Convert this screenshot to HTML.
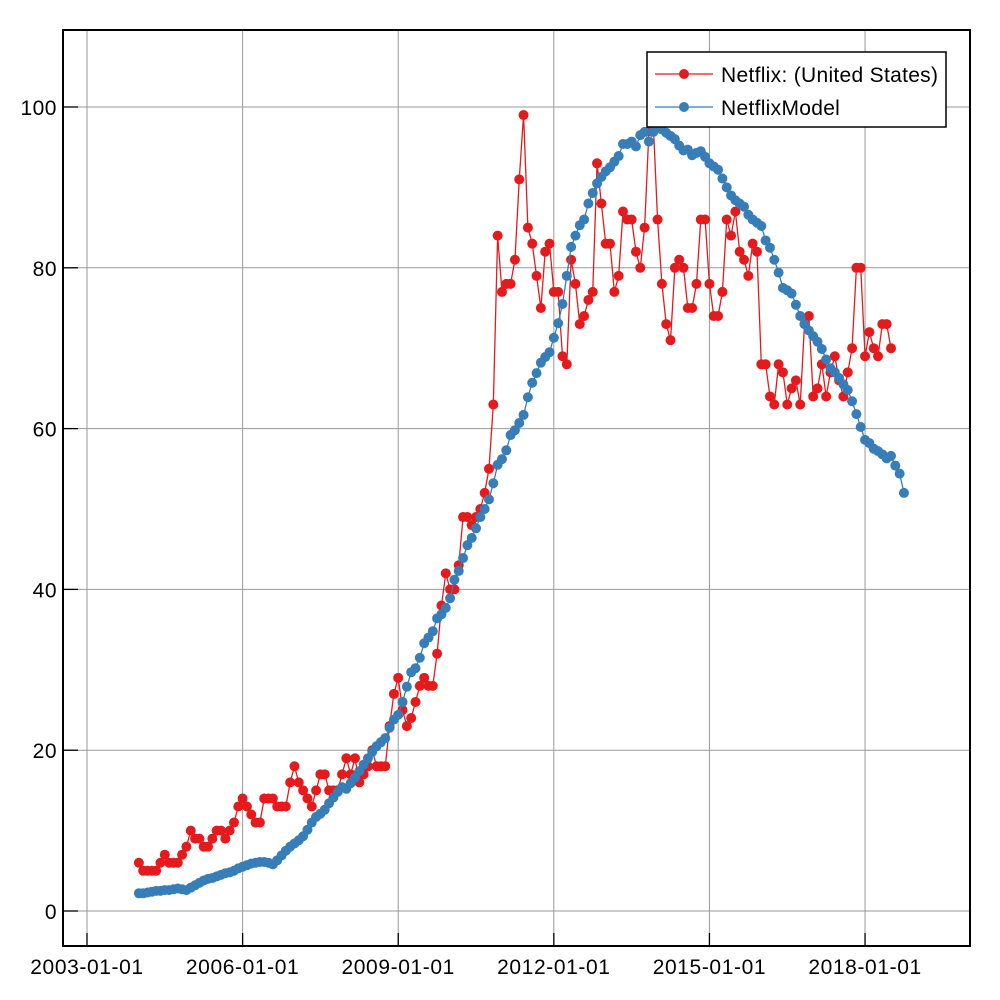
<!DOCTYPE html>
<html><head><meta charset="utf-8"><style>
body{margin:0;background:#fff;}
svg{display:block;font-family:"Liberation Sans",sans-serif;}
</style></head><body>
<svg id="chart" width="1000" height="1000" viewBox="0 0 1000 1000">
<rect x="0" y="0" width="1000" height="1000" fill="#fff"/>
<g id="grid"></g>
<g id="series"></g>
<rect x="63" y="30" width="907" height="916" fill="none" stroke="#000" stroke-width="2"/>
<g id="axes"></g>
<g>
<rect x="647" y="52" width="299" height="75" fill="#fff" stroke="#000" stroke-width="1.5"/>
<g>
<line x1="655" y1="74" x2="713" y2="74" stroke="#e41a1c" stroke-width="1.3"/>
<circle cx="684" cy="74" r="5" fill="#e41a1c"/>
<text x="721" y="82" font-size="21" letter-spacing="0.3" fill="#000">Netflix: (United States)</text></g>
<g>
<line x1="655" y1="107" x2="713" y2="107" stroke="#377eb8" stroke-width="1.3"/>
<circle cx="684" cy="107" r="5" fill="#377eb8"/>
<text x="721" y="115" font-size="21" letter-spacing="0.3" fill="#000">NetflixModel</text></g>
</g>
</svg>
<script>
const yTicks=[0,20,40,60,80,100];
const xTickYears=[2003,2006,2009,2012,2015,2018];
const xTickLabels=["2003-01-01","2006-01-01","2009-01-01","2012-01-01","2015-01-01","2018-01-01"];
const startYear=2004;
const netflix=[6,5,5,5,5,6,7,6,6,6,7,8,
10,9,9,8,8,9,10,10,9,10,11,13,
14,13,12,11,11,14,14,14,13,13,13,16,
18,16,15,14,13,15,17,17,15,15,15,17,
19,17,19,16,17,18,20,18,18,18,23,27,
29,25,23,24,26,28,29,28,28,32,38,42,
40,40,43,49,49,48,49,50,52,55,63,84,
77,78,78,81,91,99,85,83,79,75,82,83,
77,77,69,68,81,78,73,74,76,77,93,88,
83,83,77,79,87,86,86,82,80,85,97,98,
86,78,73,71,80,81,80,75,75,78,86,86,
78,74,74,77,86,84,87,82,81,79,83,82,
68,68,64,63,68,67,63,65,66,63,73,74,
64,65,68,64,67,69,66,64,67,70,80,80,
69,72,70,69,73,73,70];
const model=[2.2,2.2,2.3,2.4,2.5,2.5,2.6,2.6,2.7,2.8,2.7,2.6,
2.9,3.2,3.5,3.8,4.0,4.1,4.3,4.5,4.7,4.8,5.0,5.3,
5.5,5.7,5.9,6.0,6.1,6.1,6.0,5.8,6.3,6.9,7.5,8.0,
8.4,8.8,9.3,10.1,11.0,11.7,12.1,12.6,13.4,14.1,14.8,15.4,
15.2,15.9,16.6,17.4,18.2,19.0,19.8,20.5,21.0,
21.5,22.8,23.8,24.4,26.0,27.9,29.7,30.2,31.5,33.3,34.0,34.8,
36.4,36.9,37.7,38.9,41.2,42.3,43.9,45.5,46.4,47.6,49.0,50.0,
51.2,53.2,55.5,56.2,57.3,59.2,59.8,60.7,61.7,63.9,65.7,66.9,
68.2,68.9,69.5,71.3,73.1,75.5,
79.0,
82.6,84.0,85.3,86.0,88.0,89.3,90.5,91.3,92.0,92.5,93.2,93.9,
95.4,95.4,95.7,95.1,96.5,96.9,95.7,96.9,
97.4,97.2,96.8,96.4,96.0,95.2,94.6,94.7,94.0,94.3,94.5,93.8,
93.0,92.6,92.2,91.1,90.0,89.0,88.4,88.0,87.6,86.6,86.0,85.6,
85.2,83.4,82.5,81.0,79.4,77.5,77.2,76.8,75.4,74.0,73.0,72.2,
71.5,70.8,69.9,68.6,67.5,67.0,66.3,65.5,64.8,63.4,61.8,60.2,
58.6,58.2,57.5,57.2,56.8,56.3,56.6,55.4,54.4,52.0];

const NS="http://www.w3.org/2000/svg";
function xScale(yr){return 87+(yr-2003)*51.87;}
function yScale(v){return 911-v*8.04;}
function mk(tag,attrs,parent){const e=document.createElementNS(NS,tag);for(const k in attrs)e.setAttribute(k,attrs[k]);parent.appendChild(e);return e;}
const grid=document.getElementById('grid'),axes=document.getElementById('axes'),series=document.getElementById('series');
yTicks.forEach(v=>{
  const y=yScale(v);
  const g=mk('line',{x1:63,x2:970,y1:y,y2:y,stroke:'#999','stroke-width':1},grid);
  
  
  const t=mk('line',{x1:63,x2:78,y1:y,y2:y,stroke:'#000','stroke-width':1.3},axes);
  
  
  const l=mk('text',{x:57,y:y+8,'text-anchor':'end','font-size':21,'letter-spacing':0.5},axes);
  l.textContent=v;
  
  
});
xTickYears.forEach((yr,i)=>{
  const x=xScale(yr);
  const g=mk('line',{x1:x,x2:x,y1:30,y2:946,stroke:'#999','stroke-width':1},grid);
  
  
  const t=mk('line',{x1:x,x2:x,y1:933,y2:946,stroke:'#000','stroke-width':1.3},axes);
  
  
  const l=mk('text',{x:x,y:974,'text-anchor':'middle','font-size':21,'letter-spacing':0.6},axes);
  l.textContent=xTickLabels[i];
  
  
});
function drawSeries(vals,color,name){
  const g=mk('g',{},series);
  
  
  const pts=vals.map((v,i)=>[xScale(startYear+i/12),yScale(v)]);
  const p=mk('polyline',{points:pts.map(p=>p.join(',')).join(' '),fill:'none',stroke:color,'stroke-width':1.3},g);
  
  
  pts.forEach(pt=>{
    const c=mk('circle',{cx:pt[0],cy:pt[1],r:5,fill:color},g);
    
    
  });
}
drawSeries(netflix,'#e41a1c','netflix-series');
drawSeries(model,'#377eb8','netflix-model-series');
</script>
</body></html>
